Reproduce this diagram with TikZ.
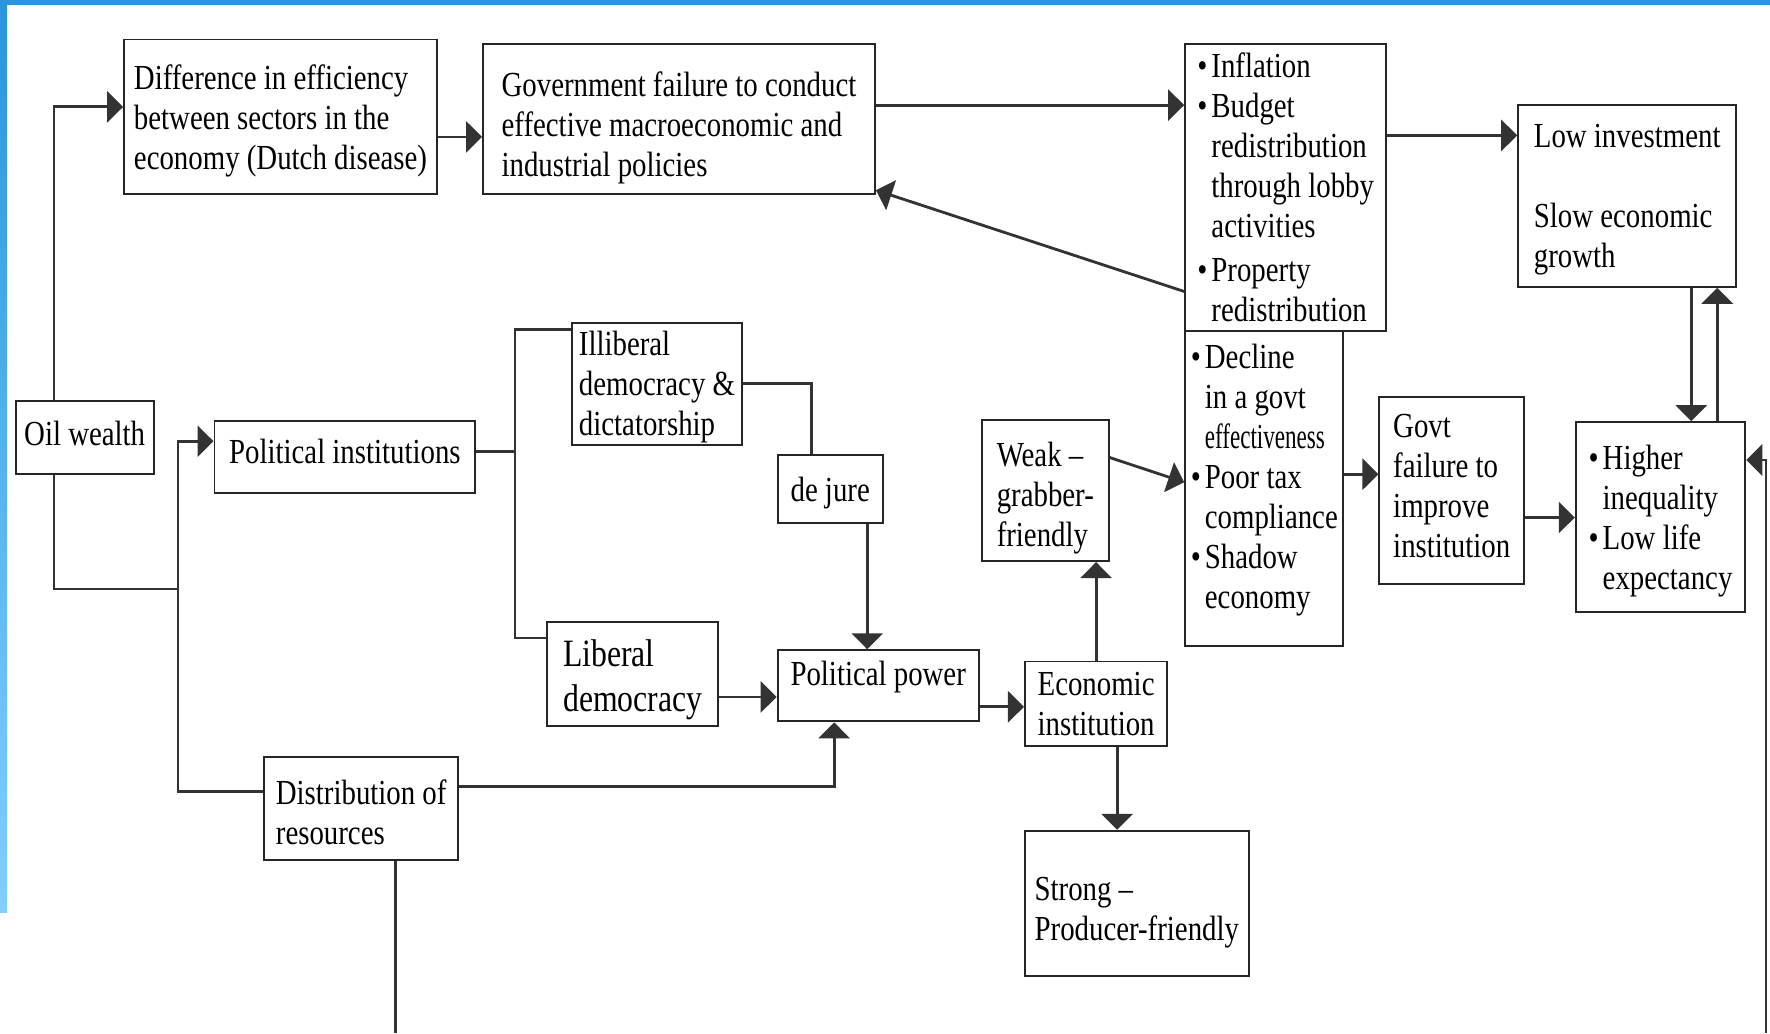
\documentclass[tikz,border=0pt]{standalone}
\usepackage{fontspec}
\setmainfont{Liberation Serif}[FakeStretch=0.82]
\usepackage{graphicx}
\usetikzlibrary{arrows.meta}
\definecolor{edgeblue}{HTML}{2A95DD}
\definecolor{lightblue}{HTML}{80CFFF}
\newcommand{\bul}{\makebox[4pt][l]{\textbullet}}
\newcommand{\ind}{\hspace*{4pt}}
% struts to nudge text in its box
\newcommand{\dn}[1]{\rule{0pt}{#1}}
\newcommand{\up}[1]{\rule[-#1]{0pt}{#1}}

\begin{document}
\begin{tikzpicture}[x=0.01cm,y=-0.01cm,
  box/.style={draw=black!85,line width=0.55pt,align=left,inner xsep=1pt,inner ysep=0pt,font=\fontsize{10}{11.4}\selectfont},
  link/.style={draw=black!80,line width=0.8pt},
  >={Triangle[length=1.6mm,width=3.1mm]}]
\useasboundingbox (0,0) rectangle (1770,1033);
% page edge
\fill[edgeblue] (0,0) rectangle (1770,5);
\shade[top color=edgeblue,bottom color=lightblue] (0,5) rectangle (7,912);

% boxes
\node[box,minimum width=1.377cm,minimum height=0.734cm] (oil) at (84.7,437.4) {Oil wealth\up{2.6pt}};
\node[box,minimum width=3.126cm,minimum height=1.547cm] (dutch) at (280.5,116.9) {\dn{9.4pt}Difference in efficiency\\between sectors in the\\economy (Dutch disease)};
\node[box,minimum width=3.917cm,minimum height=1.502cm] (govt) at (679,119.1) {\dn{12pt}Government failure to conduct\\effective macroeconomic and\\industrial policies};
\node[box,minimum width=2.01cm,minimum height=2.867cm] (infl) at (1285.7,187.4) {\bul Inflation\\\bul Budget\\\ind redistribution\\\ind through lobby\\\ind activities\\[1pt]\bul Property\\\ind redistribution};
\node[box,minimum width=2.179cm,minimum height=1.817cm] (lowinv) at (1627.2,195.9) {\dn{8.8pt}Low investment\\[11.4pt]Slow economic\\growth};
\node[box,minimum width=1.581cm,minimum height=3.15cm] (decl) at (1264.3,488.2) {\bul Decline\\\ind in a govt\\\ind\scalebox{0.8}[1]{effectiveness}\\\bul Poor tax\\\ind compliance\\\bul Shadow\\\ind economy\up{6.7pt}};
\node[box,minimum width=2.607cm,minimum height=0.723cm] (polinst) at (344.9,457.2) {Political institutions\up{3.2pt}};
\node[box,minimum width=1.693cm,minimum height=1.219cm] (illib) at (657,383.8) {\dn{8.8pt}Illiberal\\democracy \&\\dictatorship};
\node[box,minimum width=1.05cm,minimum height=0.677cm] (dejure) at (830.2,488.8) {\dn{9.4pt}de jure};
\node[box,minimum width=1.704cm,minimum height=1.038cm,font=\fontsize{11}{12.8}\selectfont] (lib) at (632.7,673.9) {\dn{10.7pt}Liberal\\democracy};
\node[box,minimum width=2.01cm,minimum height=0.711cm] (polpow) at (878.2,685.8) {Political power\up{7.4pt}};
\node[box,minimum width=1.265cm,minimum height=1.411cm] (weak) at (1045.3,490.5) {\dn{11.3pt}Weak --\\grabber-\\friendly};
\node[box,minimum width=1.422cm,minimum height=0.846cm] (econ) at (1096.1,703.8) {Economic\\institution};
\node[box,minimum width=2.235cm,minimum height=1.456cm] (strong) at (1136.8,903.6) {\dn{12pt}Strong --\\Producer-friendly};
\node[box,minimum width=1.445cm,minimum height=1.863cm] (gfail) at (1451.7,490.5) {Govt\\failure to\\improve\\institution\up{2.6pt}};
\node[box,minimum width=1.694cm,minimum height=1.896cm] (higher) at (1660.5,517) {\dn{9.4pt}\bul Higher\\\ind inequality\\\bul Low life\\\ind expectancy};
\node[box,minimum width=1.942cm,minimum height=1.028cm] (dist) at (361.2,808.8) {\dn{8.8pt}Distribution of\\resources};

% trunk lines
\coordinate (trunk) at (54,0);
\coordinate (spine) at (178,589);
\coordinate (brk) at (515,0);
\coordinate (bottomedge) at (0,1033);
\coordinate (rline) at (1766,1033);

\draw[link,->] (oil.north -| trunk) |- ([yshift=1mm]dutch.west);
\draw[link] (oil.south -| trunk) |- (spine);
\draw[link,->] ([yshift=1.7mm]dist.west) -| (spine) |- ([yshift=1.6mm]polinst.west);
\draw[link,->] ([yshift=-2mm]dutch.east) -- ([yshift=-2mm]dutch.east -| govt.west);
\draw[link,->] ([yshift=1.4mm]govt.east) -- ([yshift=1.4mm]govt.east -| infl.west);
\draw[link,->] ([yshift=-10.4mm]infl.west) -- ([yshift=0.5mm]govt.south east);
\draw[link,->] ([yshift=5.2mm]infl.east) -- ([yshift=5.2mm]infl.east -| lowinv.west);
\draw[link,->] ([xshift=6.4mm]lowinv.south) -- ([xshift=6.4mm]lowinv.south |- higher.north);
\draw[link,->] ([xshift=9mm]lowinv.south |- higher.north) -- ([xshift=9mm]lowinv.south);

% political side
\draw[link] ([yshift=0.6mm]polinst.east) -- ([yshift=0.6mm]polinst.east -| brk);
\draw[link] ([yshift=-0.8mm]illib.north west) -| ([yshift=-1.7mm]lib.north west -| brk) -- ([yshift=-1.7mm]lib.north west);
\draw[link] (illib.east) -| ([xshift=-1.9mm]dejure.north);
\draw[link,->] ([xshift=3.7mm]dejure.south) -- ([xshift=3.7mm]dejure.south |- polpow.north);
\draw[link,->] ([yshift=-2.3mm]lib.east) -- ([yshift=-2.3mm]lib.east -| polpow.west);
\draw[link,->] ([yshift=2.2mm]dist.east) -| ([xshift=-4.4mm]polpow.south);
\draw[link] ([xshift=3.4mm]dist.south) -- ([xshift=3.4mm]dist.south |- bottomedge);
\draw[link,->] ([yshift=-2.1mm]polpow.east) -- ([yshift=-2.1mm]polpow.east -| econ.west);

% economic side
\draw[link,->] (econ.north) -- (econ.north |- weak.south);
\draw[link,->] ([xshift=2.1mm]econ.south) -- ([xshift=2.1mm]econ.south |- strong.north);
\draw[link,->] ([yshift=3.3mm]weak.east) -- ([yshift=0.6mm]decl.west);
\draw[link,->] ([yshift=1.4mm]decl.east) -- ([yshift=1.4mm]decl.east -| gfail.west);
\draw[link,->] ([yshift=-2.7mm]gfail.east) -- ([yshift=-2.7mm]gfail.east -| higher.west);
\draw[link,->] (rline) |- ([yshift=5.7mm]higher.east);

\end{tikzpicture}
\end{document}
